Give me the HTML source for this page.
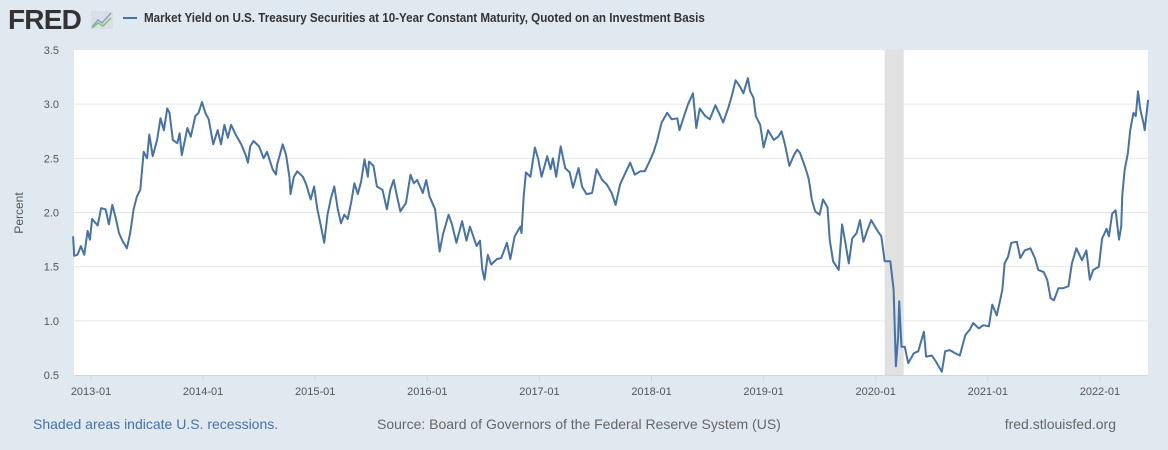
<!DOCTYPE html>
<html><head><meta charset="utf-8"><style>
body{margin:0;background:#e1e9f0;width:1168px;height:450px;overflow:hidden;font-family:"Liberation Sans",sans-serif;}
svg{position:absolute;left:0;top:0}
</style></head><body>
<svg id="chart" width="1168" height="450">
<rect x="0" y="0" width="1168" height="450" fill="#e1e9f0"/>
<g>
<text x="8" y="29" font-size="28" font-weight="bold" fill="#333" font-family="Liberation Sans,sans-serif" letter-spacing="-0.8">FRED</text>
<rect x="91" y="11" width="22" height="18" fill="#d8e0e6"/>
<polyline points="92,27 98,20 102,23 111,13" fill="none" stroke="#7ea6c9" stroke-width="1.5"/>
<polyline points="92,28 98,23 103,26 111,18" fill="none" stroke="#8cbf6a" stroke-width="1.5"/>
</g>
<line x1="123" y1="18" x2="137" y2="18" stroke="#4572a7" stroke-width="2"/>
<text x="144" y="22" font-size="12.5" fill="#333" font-weight="bold" transform="scale(0.93,1)" style="transform-origin:144px 22px">Market Yield on U.S. Treasury Securities at 10-Year Constant Maturity, Quoted on an Investment Basis</text>
<rect x="74" y="50" width="1074" height="325" fill="#fff"/>
<g id="grid"></g>
<rect id="rec" fill="#e1e1e1"/>
<g id="series"></g>
<g id="yticks"></g>
<g id="xticks"></g>
<text x="23" y="213" font-size="12" fill="#555" transform="rotate(-90 23 213)" text-anchor="middle">Percent</text>
<text x="33" y="429" font-size="14" fill="#4572a7">Shaded areas indicate U.S. recessions.</text>
<text x="377" y="429" font-size="14" fill="#666">Source: Board of Governors of the Federal Reserve System (US)</text>
<text x="1116" y="429" font-size="14" fill="#666" text-anchor="end">fred.stlouisfed.org</text>
</svg>
<script>
const yTicks=[0.5,1.0,1.5,2.0,2.5,3.0,3.5];
const xTickLabels=["2013-01","2014-01","2015-01","2016-01","2017-01","2018-01","2019-01","2020-01","2021-01","2022-01"];
const xTickYears=[2013,2014,2015,2016,2017,2018,2019,2020,2021,2022];
const recession=[2020.08,2020.25];
const dates=[2012.84,2012.85,2012.88,2012.91,2012.94,2012.97,2012.99,2013.01,2013.06,2013.09,2013.13,2013.16,2013.19,2013.22,2013.25,2013.28,2013.32,2013.35,2013.38,2013.41,2013.44,2013.47,2013.50,2013.52,2013.55,2013.59,2013.62,2013.65,2013.68,2013.70,2013.73,2013.77,2013.79,2013.81,2013.86,2013.89,2013.93,2013.96,2013.99,2014.02,2014.05,2014.09,2014.13,2014.16,2014.19,2014.22,2014.25,2014.29,2014.34,2014.38,2014.40,2014.42,2014.45,2014.50,2014.54,2014.57,2014.62,2014.65,2014.66,2014.71,2014.74,2014.77,2014.78,2014.81,2014.84,2014.89,2014.92,2014.96,2014.99,2015.02,2015.05,2015.08,2015.11,2015.14,2015.17,2015.20,2015.23,2015.26,2015.29,2015.32,2015.35,2015.38,2015.41,2015.44,2015.47,2015.48,2015.52,2015.55,2015.60,2015.64,2015.67,2015.70,2015.73,2015.76,2015.81,2015.85,2015.88,2015.91,2015.96,2015.99,2016.02,2016.07,2016.11,2016.14,2016.19,2016.22,2016.26,2016.31,2016.35,2016.38,2016.41,2016.44,2016.47,2016.49,2016.51,2016.54,2016.57,2016.62,2016.66,2016.71,2016.74,2016.78,2016.83,2016.84,2016.86,2016.88,2016.92,2016.96,2016.99,2017.02,2017.07,2017.10,2017.12,2017.15,2017.19,2017.23,2017.27,2017.30,2017.35,2017.38,2017.42,2017.47,2017.51,2017.56,2017.60,2017.645,2017.68,2017.72,2017.76,2017.81,2017.85,2017.90,2017.94,2017.99,2018.02,2018.05,2018.09,2018.14,2018.18,2018.23,2018.25,2018.30,2018.33,2018.37,2018.40,2018.43,2018.48,2018.52,2018.57,2018.61,2018.64,2018.69,2018.72,2018.75,2018.79,2018.82,2018.86,2018.88,2018.91,2018.93,2018.97,2019.00,2019.04,2019.09,2019.13,2019.16,2019.19,2019.23,2019.27,2019.30,2019.325,2019.37,2019.40,2019.41,2019.43,2019.46,2019.50,2019.53,2019.57,2019.59,2019.62,2019.67,2019.70,2019.73,2019.76,2019.79,2019.83,2019.86,2019.89,2019.92,2019.96,2020.01,2020.05,2020.08,2020.13,2020.16,2020.18,2020.20,2020.21,2020.23,2020.26,2020.29,2020.34,2020.38,2020.43,2020.45,2020.50,2020.54,2020.59,2020.62,2020.66,2020.71,2020.75,2020.80,2020.84,2020.87,2020.92,2020.96,2021.01,2021.04,2021.08,2021.11,2021.13,2021.15,2021.18,2021.21,2021.26,2021.29,2021.33,2021.38,2021.42,2021.45,2021.50,2021.53,2021.56,2021.59,2021.63,2021.67,2021.72,2021.75,2021.79,2021.84,2021.88,2021.91,2021.94,2021.99,2022.02,2022.06,2022.08,2022.11,2022.14,2022.17,2022.19,2022.20,2022.22,2022.25,2022.27,2022.30,2022.32,2022.34,2022.36,2022.39,2022.40,2022.43];
const yields=[1.78,1.60,1.61,1.69,1.61,1.83,1.75,1.94,1.88,2.04,2.03,1.89,2.07,1.95,1.81,1.74,1.67,1.81,2.03,2.15,2.21,2.56,2.50,2.72,2.52,2.67,2.87,2.76,2.96,2.92,2.67,2.64,2.73,2.53,2.78,2.70,2.89,2.92,3.02,2.92,2.86,2.63,2.76,2.63,2.81,2.69,2.81,2.72,2.63,2.53,2.46,2.61,2.66,2.61,2.50,2.56,2.40,2.35,2.44,2.63,2.53,2.33,2.17,2.33,2.38,2.33,2.26,2.12,2.24,2.03,1.88,1.72,1.98,2.13,2.24,2.04,1.90,1.98,1.94,2.09,2.27,2.17,2.29,2.49,2.33,2.47,2.43,2.24,2.21,2.03,2.21,2.30,2.15,2.01,2.09,2.35,2.27,2.30,2.18,2.30,2.15,2.03,1.64,1.80,1.98,1.89,1.72,1.92,1.74,1.87,1.78,1.69,1.74,1.48,1.38,1.61,1.52,1.57,1.58,1.72,1.57,1.78,1.87,1.81,2.15,2.37,2.33,2.60,2.49,2.33,2.52,2.40,2.50,2.33,2.61,2.41,2.37,2.23,2.41,2.24,2.17,2.18,2.40,2.30,2.26,2.18,2.07,2.26,2.35,2.46,2.35,2.38,2.38,2.49,2.56,2.66,2.83,2.92,2.86,2.87,2.76,2.92,3.01,3.10,2.78,2.96,2.89,2.86,2.99,2.90,2.83,2.98,3.09,3.22,3.16,3.10,3.24,3.12,3.06,2.89,2.81,2.60,2.76,2.67,2.70,2.75,2.63,2.43,2.53,2.58,2.55,2.42,2.32,2.26,2.12,2.01,1.98,2.12,2.05,1.75,1.55,1.47,1.89,1.72,1.53,1.76,1.81,1.93,1.73,1.82,1.93,1.84,1.78,1.55,1.55,1.29,0.58,0.85,1.18,0.76,0.76,0.61,0.70,0.72,0.90,0.67,0.68,0.62,0.53,0.72,0.73,0.70,0.68,0.87,0.92,0.98,0.93,0.96,0.95,1.15,1.05,1.19,1.29,1.53,1.59,1.72,1.73,1.58,1.65,1.67,1.58,1.47,1.45,1.38,1.21,1.19,1.30,1.30,1.32,1.53,1.67,1.56,1.65,1.38,1.47,1.50,1.76,1.85,1.78,1.99,2.02,1.75,1.87,2.16,2.39,2.55,2.76,2.92,2.89,3.12,2.95,2.82,2.76,3.04];
const NS="http://www.w3.org/2000/svg";
const L=74,R=1148,T=50,B=375;
function xs(t){return 91+(t-2013)*112.1;}
function ys(v){return B-(v-0.5)/3.0*(B-T);}
function mk(tag,attrs,parent){const e=document.createElementNS(NS,tag);for(const k in attrs)e.setAttribute(k,attrs[k]);parent.appendChild(e);return e;}
const grid=document.getElementById('grid'),yt=document.getElementById('yticks'),xt=document.getElementById('xticks');
yTicks.forEach(v=>{
 if(v>0.5&&v<3.5){const g=mk('line',{x1:L,x2:R,y1:ys(v),y2:ys(v),stroke:'#e6e6e6','stroke-width':1},grid);
 
 }
 const t=mk('text',{x:59,y:ys(v)+4,'font-size':11,fill:'#555','text-anchor':'end'},yt);
 t.textContent=v.toFixed(1);
 
 
});
mk('line',{x1:L,x2:R,y1:B+0.5,y2:B+0.5,stroke:'#ccd6eb','stroke-width':1},grid);
xTickYears.forEach((yr,i)=>{
 const x=xs(yr);
 const tk=mk('line',{x1:x,x2:x,y1:B,y2:B+6,stroke:'#ccd6eb','stroke-width':1},xt);
 
 
 const t=mk('text',{x:x,y:B+20,'font-size':11,fill:'#555','text-anchor':'middle'},xt);
 t.textContent=xTickLabels[i];
 
 
});
const rec=document.getElementById('rec');
rec.setAttribute('x',xs(recession[0]));rec.setAttribute('y',T);
rec.setAttribute('width',xs(recession[1])-xs(recession[0]));rec.setAttribute('height',B-T);
const pts=dates.map((d,i)=>xs(d).toFixed(1)+','+ys(yields[i]).toFixed(1)).join(' ');
const line=mk('polyline',{points:pts,fill:'none',stroke:'#4572a7','stroke-width':2,'stroke-linejoin':'round'},document.getElementById('series'));


</script>
</body></html>
